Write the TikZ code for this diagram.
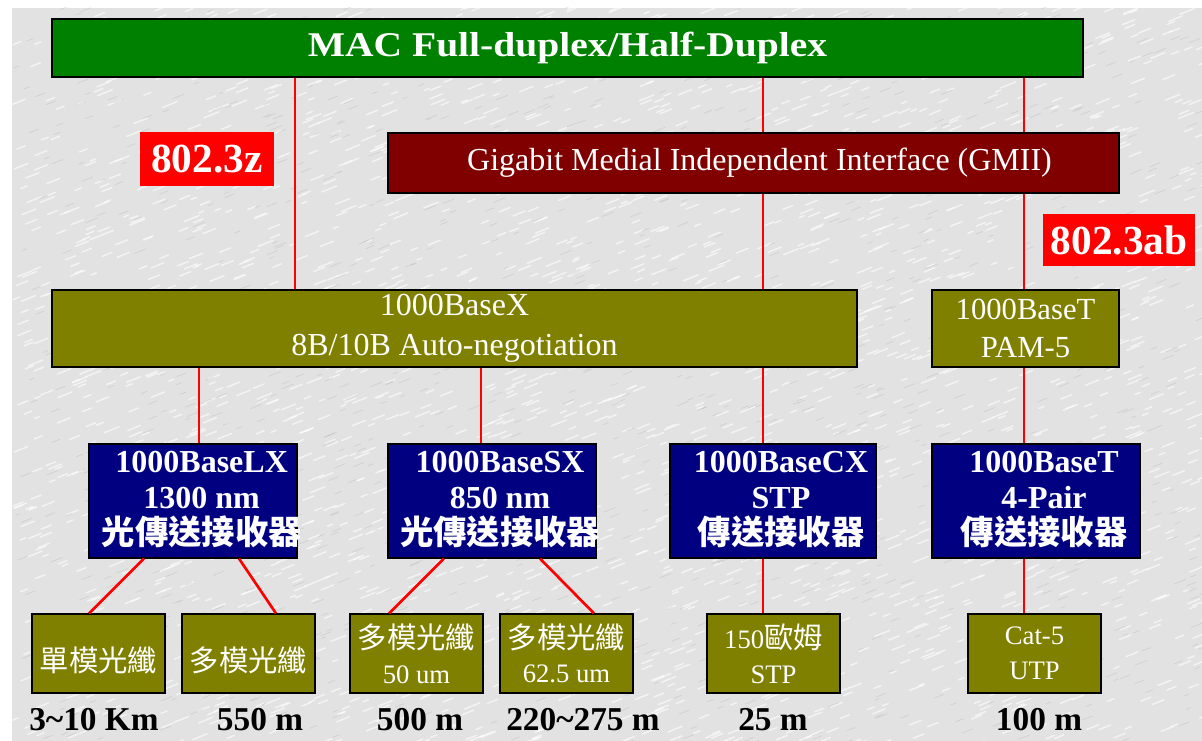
\documentclass[tikz,border=0pt]{standalone}
\usepackage{fontspec}
\setmainfont{Liberation Serif}
\newfontfamily\wideserif{Liberation Serif}[FakeStretch=1.14]
\newfontfamily\cjk{Noto Sans CJK TC}
\usetikzlibrary{fit}

\definecolor{macgreen}{HTML}{008000}
\definecolor{gmiired}{HTML}{800000}
\definecolor{phyolive}{HTML}{808000}
\definecolor{pmdnavy}{HTML}{000080}
\definecolor{linkred}{HTML}{FF0000}
\definecolor{paper}{HTML}{E2E2E2}

% CJK text at two sizes
\newcommand\zhbig[1]{{\cjk\fontsize{25}{27}\selectfont #1}}
\newcommand\zhsmall[1]{{\cjk\fontsize{22}{26}\selectfont #1}}

\tikzset{
  layerbox/.style={draw=black, line width=0.9pt, inner sep=0pt, text=white, align=center},
  macbox/.style={layerbox, fill=macgreen},
  gmiibox/.style={layerbox, fill=gmiired},
  pcsbox/.style={layerbox, fill=phyolive},
  pmdbox/.style={layerbox, fill=pmdnavy},
  mediabox/.style={layerbox, fill=phyolive},
  stdtag/.style={fill=linkred, inner sep=0pt},
  boxtext/.style={text=white, align=center, inner sep=0pt},
  pmdtext/.style={boxtext, font=\bfseries\fontsize{24}{27}\selectfont},
  mediatext/.style={boxtext, font=\fontsize{20}{26}\selectfont},
  tagtext/.style={boxtext, font=\bfseries\fontsize{31}{33}\selectfont},
  distlabel/.style={text=black, inner sep=0pt, font=\bfseries\fontsize{25}{27}\selectfont},
  link/.style={draw=linkred, line width=2pt}
}

\begin{document}
\begin{tikzpicture}[x=0.75pt, y=-0.75pt]
\useasboundingbox (0,0) rectangle (1202,741);

% paper background with fine grain
\fill[white] (0,0) rectangle (1202,741);
\fill[paper] (12,8) rectangle (1202,741);
\begin{scope}
  \clip (12,8) rectangle (1202,741);
  \pgfmathsetseed{7}
  \foreach \i in {1,...,2600}{
    \pgfmathsetmacro\strx{12+1190*rnd}
    \pgfmathsetmacro\stry{8+740*rnd}
    \pgfmathsetmacro\strl{5+10*rnd}
    \draw[white, line width=1.1pt, opacity=.6, line cap=round] (\strx,\stry) -- ++(\strl,-0.4*\strl);
  }
  \foreach \i in {1,...,1200}{
    \pgfmathsetmacro\strx{12+1190*rnd}
    \pgfmathsetmacro\stry{8+740*rnd}
    \pgfmathsetmacro\strl{4+8*rnd}
    \draw[black!40, line width=0.5pt, opacity=.25, line cap=round] (\strx,\stry) -- ++(\strl,-0.4*\strl);
  }
\end{scope}

% MAC and GMII layers
\node[macbox, fit={(52,19) (1083,77)}] (mac) {};
\node[boxtext, font=\wideserif\bfseries\fontsize{26}{28}\selectfont] (mact) at (mac.center) {MAC Full-duplex/Half-Duplex};
\node[gmiibox, fit={(388,133) (1119,193)}] (gmii) {};
\node[boxtext, font=\fontsize{24}{26}\selectfont] (gmiit) at ([xshift=4.5pt]gmii.center) {Gigabit Medial Independent Interface (GMII)};

% standard tags
\node[stdtag, fit={(140,132) (274,186)}] (tagz) {};
\node[tagtext] (tagzt) at (tagz.center) {802.3z};
\node[stdtag, fit={(1043,214) (1195,266)}] (tagab) {};
\node[tagtext] (tagabt) at (tagab.center) {802.3ab};

% PCS layers
\node[pcsbox, fit={(52,290) (857,367)}] (basex) {};
\node[boxtext, font=\fontsize{24}{30}\selectfont] (basext) at (basex.center) {1000BaseX\\8B/10B Auto-negotiation};
\node[pcsbox, fit={(932,290) (1119,367)}] (pam) {};
\node[boxtext, font=\fontsize{23}{29}\selectfont] (pamt) at (pam.center) {1000BaseT\\PAM-5};

% PMD transceivers
\node[pmdbox, fit={(89,444) (297,558)}] (lx) {};
\node[pmdtext] (lxt) at ([xshift=6.5pt,yshift=1pt]lx.center) {1000BaseLX\\1300 nm\\\zhbig{光傳送接收器}};
\node[pmdbox, fit={(388,444) (596,558)}] (sx) {};
\node[pmdtext] (sxt) at ([xshift=6pt,yshift=1pt]sx.center) {1000BaseSX\\850 nm\\\zhbig{光傳送接收器}};
\node[pmdbox, fit={(670,444) (876,558)}] (cx) {};
\node[pmdtext] (cxt) at ([xshift=6pt,yshift=1pt]cx.center) {1000BaseCX\\STP\\\zhbig{傳送接收器}};
\node[pmdbox, fit={(932,444) (1140,558)}] (bt) {};
\node[pmdtext] (btt) at ([xshift=6pt,yshift=1pt]bt.center) {1000BaseT\\4-Pair\\\zhbig{傳送接收器}};

% media
\node[mediabox, fit={(32,614) (165,693)}] (m1) {};
\node[boxtext] (m1t) at ([yshift=-5pt]m1.center) {\zhsmall{單模光纖}};
\node[mediabox, fit={(182,614) (315,693)}] (m2) {};
\node[boxtext] (m2t) at ([yshift=-5pt]m2.center) {\zhsmall{多模光纖}};
\node[mediabox, fit={(350,614) (483,693)}] (m3) {};
\node[mediatext] (m3t) at (m3.center) {\zhsmall{多模光纖}\\50 um};
\node[mediabox, fit={(500,614) (633,693)}] (m4) {};
\node[mediatext] (m4t) at (m4.center) {\zhsmall{多模光纖}\\62.5 um};
\node[mediabox, fit={(707,614) (840,693)}] (m5) {};
\node[mediatext] (m5t) at (m5.center) {150\zhsmall{歐姆}\\STP};
\node[mediabox, fit={(968,614) (1101,693)}] (m6) {};
\node[mediatext] (m6t) at (m6.center) {Cat-5\\UTP};

% distances
\node[distlabel] (d1) at (94,720) {3\textasciitilde10 Km};
\node[distlabel] (d2) at (260,720) {550 m};
\node[distlabel] (d3) at (420,720) {500 m};
\node[distlabel] (d4) at (583,720) {220\textasciitilde275 m};
\node[distlabel] (d5) at (773,720) {25 m};
\node[distlabel] (d6) at (1039,720) {100 m};

% connector columns
\coordinate (colz) at (295,0);
\coordinate (colx) at (763,0);
\coordinate (colt) at (1024,0);
\coordinate (collx) at (199,0);
\coordinate (colsx) at (481,0);
\coordinate (lxa) at (144,0);
\coordinate (lxb) at (239,0);
\coordinate (sxa) at (444,0);
\coordinate (sxb) at (540,0);
\coordinate (m1a) at (89,0);
\coordinate (m2a) at (276,0);
\coordinate (m3a) at (389,0);
\coordinate (m4a) at (594,0);

% connectors
\draw[link] (mac.south -| colz) -- (basex.north -| colz);
\draw[link] (mac.south -| colx) -- (gmii.north -| colx);
\draw[link] (gmii.south -| colx) -- (basex.north -| colx);
\draw[link] (mac.south -| colt) -- (gmii.north -| colt);
\draw[link] (gmii.south -| colt) -- (pam.north -| colt);
\draw[link] (basex.south -| collx) -- (lx.north -| collx);
\draw[link] (basex.south -| colsx) -- (sx.north -| colsx);
\draw[link] (basex.south -| colx) -- (cx.north -| colx);
\draw[link] (pam.south -| colt) -- (bt.north -| colt);
\draw[link] (lx.south -| lxa) -- (m1.north -| m1a);
\draw[link] (lx.south -| lxb) -- (m2.north -| m2a);
\draw[link] (sx.south -| sxa) -- (m3.north -| m3a);
\draw[link] (sx.south -| sxb) -- (m4.north -| m4a);
\draw[link] (cx.south -| colx) -- (m5.north -| colx);
\draw[link] (bt.south -| colt) -- (m6.north -| colt);
\end{tikzpicture}
\end{document}
